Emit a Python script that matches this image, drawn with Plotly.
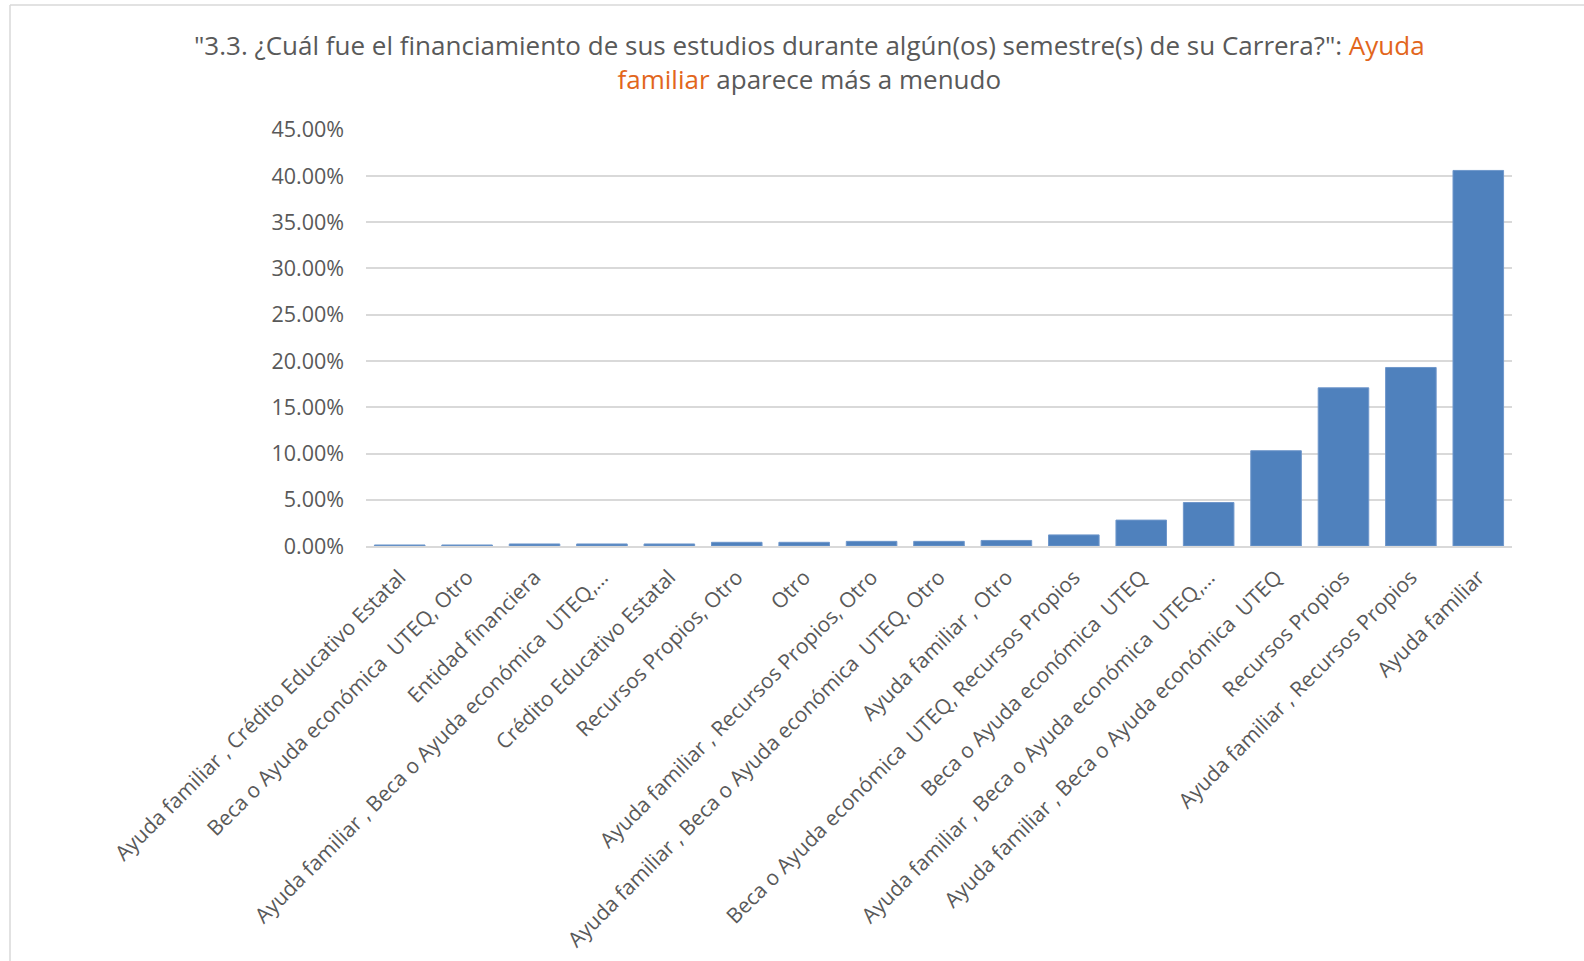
import plotly.graph_objects as go

# Financiamiento de estudios (pregunta 3.3), porcentaje de respuestas
categorias = [
    "Ayuda familiar , Crédito Educativo Estatal",
    "Beca o Ayuda económica\u00a0\u00a0UTEQ, Otro",
    "Entidad financiera",
    "Ayuda familiar , Beca o Ayuda económica\u00a0\u00a0UTEQ,…",
    "Crédito Educativo Estatal",
    "Recursos Propios, Otro",
    "Otro",
    "Ayuda familiar , Recursos Propios, Otro",
    "Ayuda familiar , Beca o Ayuda económica\u00a0\u00a0UTEQ, Otro",
    "Ayuda familiar , Otro",
    "Beca o Ayuda económica\u00a0\u00a0UTEQ, Recursos Propios",
    "Beca o Ayuda económica\u00a0\u00a0UTEQ",
    "Ayuda familiar , Beca o Ayuda económica\u00a0\u00a0UTEQ,…",
    "Ayuda familiar , Beca o Ayuda económica\u00a0\u00a0UTEQ",
    "Recursos Propios",
    "Ayuda familiar , Recursos Propios",
    "Ayuda familiar",
]
porcentajes = [0.0011, 0.0011, 0.0022, 0.0022, 0.0022, 0.0040, 0.0040, 0.0050, 0.0050,
               0.0060, 0.0120, 0.0280, 0.0470, 0.1030, 0.1710, 0.1930, 0.4060]
ticks_y = [0, 0.05, 0.10, 0.15, 0.20, 0.25, 0.30, 0.35, 0.40, 0.45]

W, H = 1584, 961
ML, MR, MT, MB = 366, 72, 129, 415
GRIS = "#595959"
FUENTE = "Open Sans"

posiciones = list(range(len(categorias)))

fig = go.Figure()
fig.add_trace(go.Bar(
    x=posiciones, y=porcentajes,
    marker=dict(color="#4F81BD", line=dict(color="#6F97CB", width=1)),
    width=0.75, showlegend=False, hoverinfo="y",
))

fig.update_layout(
    width=W, height=H,
    margin=dict(l=ML, r=MR, t=MT, b=MB),
    paper_bgcolor="white", plot_bgcolor="white",
    font=dict(family=FUENTE, color=GRIS, size=21),
    showlegend=False,
)

fig.update_xaxes(
    tickmode="array", tickvals=posiciones, ticktext=categorias,
    range=[-0.5, len(categorias) - 0.5], automargin=False,
    tickangle=-45, showgrid=False, zeroline=False,
    showline=True, linecolor="#D9D9D9", linewidth=1.5,
    ticks="", tickfont=dict(size=21, color=GRIS), ticklabelstandoff=9,
)
fig.update_yaxes(
    range=[0, 0.4508], tickvals=ticks_y, tickformat=".2%", automargin=False,
    showgrid=True, gridcolor="#D9D9D9", gridwidth=1.5,
    zeroline=False, showline=False, ticks="",
    tickfont=dict(size=21.5, color=GRIS), ticklabelstandoff=21,
)

# Título en dos líneas, "Ayuda familiar" resaltado en naranja
naranja = "#E2661C"
titulo = ('"3.3. ¿Cuál fue el financiamiento de sus estudios durante algún(os) semestre(s) de su Carrera?": '
          f'<span style="color:{naranja}">Ayuda</span><br>'
          f'<span style="color:{naranja}">familiar</span> aparece más a menudo')
pw = W - ML - MR
ph = H - MT - MB
fig.add_annotation(
    text=titulo, xref="paper", yref="paper",
    x=(809 - ML) / pw, y=(H - MB - 62) / ph,
    xanchor="center", yanchor="middle", showarrow=False,
    font=dict(size=26, color=GRIS, family=FUENTE), align="center",
)

# Borde del área del gráfico (solo izquierda y arriba visibles)
x_borde = (10 - ML) / pw
y_borde = (H - MB - 5) / ph
y_abajo = (H - MB - H - 5) / ph
fig.add_shape(type="line", xref="paper", yref="paper", x0=x_borde, x1=(W + 5 - ML) / pw,
              y0=y_borde, y1=y_borde, line=dict(color="#D9D9D9", width=1.5))
fig.add_shape(type="line", xref="paper", yref="paper", x0=x_borde, x1=x_borde,
              y0=y_abajo, y1=y_borde, line=dict(color="#D9D9D9", width=1.5))

# Sin margen del body para que la figura ocupe la ventana exacta
fig.write_html("out.html", config={"displayModeBar": False},
               post_script="document.body.style.margin='0';")
